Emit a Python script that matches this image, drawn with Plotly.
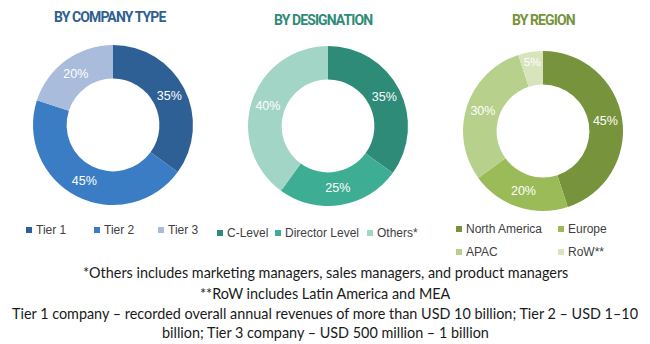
import plotly.graph_objects as go

# Survey breakdowns (percent of respondents)
company_labels = ["Tier 1", "Tier 2", "Tier 3"]
company_values = [35, 45, 20]
company_colors = ["#2E6096", "#3B7DC4", "#A9BCDB"]

designation_labels = ["C-Level", "Director Level", "Others*"]
designation_values = [35, 25, 40]
designation_colors = ["#2E8B77", "#3DAE94", "#A3D5C6"]

region_labels = ["North America", "Europe", "APAC", "RoW**"]
region_values = [45, 20, 30, 5]
region_colors = ["#77933C", "#9BBB59", "#B7D08C", "#D8E4BC"]

titles = ["BY COMPANY TYPE", "BY DESIGNATION", "BY REGION"]
title_colors = ["#2E5F8F", "#2E8B77", "#77933C"]

footnotes = [
    "*Others includes marketing managers, sales managers, and product managers",
    "**RoW includes Latin America and MEA",
    "Tier 1 company \u2013 recorded overall annual revenues of more than USD 10 billion; Tier 2 \u2013 USD 1\u201310",
    "billion; Tier 3 company \u2013 USD 500 million \u2013 1 billion",
]

W, H = 650, 344


def px_x(x):
    return x / W


def px_y(y):
    return 1 - y / H


fig = go.Figure()

# (labels, values, colors, centre x, centre y, legend key positions)
panels = [
    (company_labels, company_values, company_colors, 113, 125,
     [(26, 230), (94, 230), (158, 230)]),
    (designation_labels, designation_values, designation_colors, 328, 126,
     [(217, 233), (275, 233), (367, 233)]),
    (region_labels, region_values, region_colors, 543, 131,
     [(456, 229), (558, 229), (456, 252), (558, 252)]),
]
R = 80

shapes = []
annotations = []

for labels, values, colors, cx, cy, keys in panels:
    fig.add_trace(go.Pie(
        labels=labels,
        values=values,
        hole=0.58,
        sort=False,
        direction="clockwise",
        rotation=0,
        marker=dict(colors=colors, line=dict(width=0)),
        texttemplate="%{value}%",
        textposition="inside",
        insidetextorientation="horizontal",
        textfont=dict(family="Liberation Sans, Arial", size=12.5, color="white"),
        domain=dict(x=[px_x(cx - R), px_x(cx + R)], y=[px_y(cy + R), px_y(cy - R)]),
        showlegend=False,
        hoverinfo="label+percent",
    ))
    # legend: small colour square followed by the category name
    for lab, col, (kx, ky) in zip(labels, colors, keys):
        shapes.append(dict(
            type="rect", xref="paper", yref="paper",
            x0=px_x(kx), x1=px_x(kx + 6), y0=px_y(ky + 3), y1=px_y(ky - 3),
            fillcolor=col, line=dict(width=0),
        ))
        annotations.append(dict(
            text=lab, x=px_x(kx + 8), y=px_y(ky), xref="paper", yref="paper",
            showarrow=False, xanchor="left", yanchor="middle",
            font=dict(family="Liberation Sans, Arial", size=12, color="#404040"),
        ))

for t, c, x, y in zip(titles, title_colors, [110, 323, 543], [17, 20, 20]):
    annotations.append(dict(
        text=f"<span style='letter-spacing:-0.9px'><b>{t}</b></span>",
        x=px_x(x), y=px_y(y), xref="paper", yref="paper",
        showarrow=False, xanchor="center", yanchor="middle",
        font=dict(family="Roboto", size=14, color=c),
    ))

for line, y in zip(footnotes, [272, 293, 313, 332]):
    annotations.append(dict(
        text=line, x=0.5, y=px_y(y), xref="paper", yref="paper",
        showarrow=False, xanchor="center", yanchor="middle",
        font=dict(family="Lato, Liberation Sans", size=14.4, color="#1a1a1a"),
    ))

fig.update_layout(
    width=W, height=H,
    margin=dict(l=0, r=0, t=0, b=0, autoexpand=False),
    paper_bgcolor="white",
    plot_bgcolor="white",
    showlegend=False,
    shapes=shapes,
    annotations=annotations,
)

fig.write_html("out.html")
